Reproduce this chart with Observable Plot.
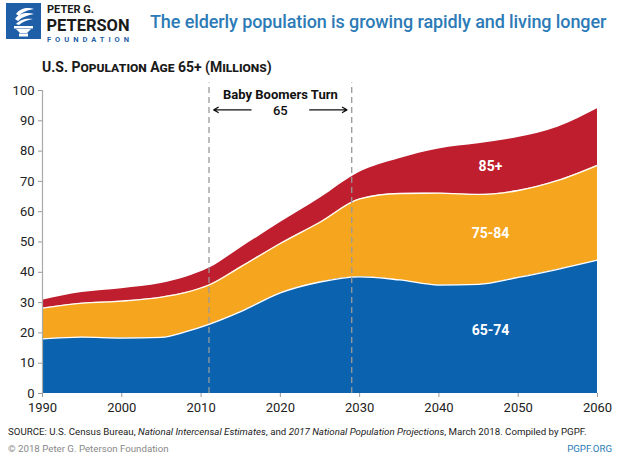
<!DOCTYPE html>
<html>
<head>
<meta charset="utf-8">
<script src="https://cdn.jsdelivr.net/npm/d3@7"></script>
<script src="https://cdn.jsdelivr.net/npm/@observablehq/plot@0.6"></script>
<style>
  html, body { margin: 0; padding: 0; background: #fff; }
  #page { position: relative; width: 620px; height: 456px; overflow: hidden; font-family: Roboto, "Open Sans", sans-serif; }
  .abs { position: absolute; white-space: nowrap; }
  #title { left: 150px; top: 11px; font-size: 18px; font-weight: 500; color: #2C7BB6; letter-spacing: -0.1px; }
  #subtitle { left: 42px; top: 59px; font-size: 14px; font-weight: 700; color: #1a1a1a; font-variant: small-caps; }
  #chart { position: absolute; left: 0; top: 80px; }
  #source { left: 8px; top: 426px; font-size: 9.7px; color: #222; }
  #copy { left: 8px; top: 443px; font-size: 9.7px; color: #888; }
  #pgpf { right: 8px; top: 443px; font-size: 9.7px; color: #2C7BB6; }
  #logo { left: 6px; top: 3px; }
  .lt { font-family: Roboto, sans-serif; }
</style>
</head>
<body>
<div id="page">
  <div id="logo" class="abs">
    <svg width="130" height="40" viewBox="0 0 130 40">
      <rect x="0" y="0" width="35" height="36" fill="#1F5FA8"/>
      <path d="M10 11 C14 5, 22 4, 28 6 C22 7, 16 9, 13 13 Z" fill="#fff"/>
      <path d="M9 16 C13 10, 21 9, 28 11 C22 12, 16 14, 12 18 Z" fill="#fff"/>
      <path d="M10 21 C14 16, 21 15, 27 16 C21 17, 16 19, 13 22 Z" fill="#fff"/>
      <rect x="8" y="23" width="19" height="2.5" fill="#fff"/>
      <path d="M10 26 L25 26 L21 30 L14 30 Z" fill="#fff"/>
      <rect x="13" y="30.5" width="9" height="3" fill="#fff"/>
      <text class="lt" x="41" y="9.5" font-size="11" font-weight="700" fill="#1a1a1a">PETER G.</text>
      <text class="lt" x="40.5" y="28.3" font-size="17" font-weight="700" fill="#1a1a1a" textLength="83" lengthAdjust="spacingAndGlyphs">PETERSON</text>
      <text class="lt" x="41" y="38.5" font-size="7.5" font-weight="700" fill="#1F5FA8" textLength="82" lengthAdjust="spacing">FOUNDATION</text>
    </svg>
  </div>
  <div id="title" class="abs">The elderly population is growing rapidly and living longer</div>
  <div id="subtitle" class="abs">U.S. Population Age 65+ (Millions)</div>
  <div id="chart"></div>
  <div id="source" class="abs">SOURCE: U.S. Census Bureau, <i>National Intercensal Estimates</i>, and <i>2017 National Population Projections</i>, March 2018. Compiled by PGPF.</div>
  <div id="copy" class="abs">© 2018 Peter G. Peterson Foundation</div>
  <div id="pgpf" class="abs">PGPF.ORG</div>
</div>
<script>
// ---- Data (millions of people) ----
const years     = [1990, 1995, 2000, 2005, 2008, 2011, 2015, 2020, 2025, 2030, 2035, 2040, 2045, 2050, 2055, 2060];
const age65to74 = [18.0, 18.6, 18.3, 18.5, 20.3, 22.8, 27.0, 33.2, 36.8, 38.5, 37.5, 35.8, 36.0, 38.3, 41.0, 44.0];
const age75to84 = [10.2, 11.2, 12.2, 13.3, 13.0, 13.0, 14.8, 16.3, 19.7, 25.7, 28.5, 30.3, 29.7, 28.7, 29.3, 31.3];
const age85plus = [ 2.6,  3.5,  4.1,  4.5,  5.0,  5.5,  6.2,  6.9,  7.9,  8.8, 11.5, 14.6, 16.7, 17.5, 17.6, 18.7];
const seriesNames  = ["65-74", "75-84", "85+"];
const seriesColors = ["#0B62AF", "#F6A51F", "#BE1E2D"];
const xTicks = [1990, 2000, 2010, 2020, 2030, 2040, 2050, 2060];
const yTicks = [0, 10, 20, 30, 40, 50, 60, 70, 80, 90, 100];
// Baby boomers turning 65 window
const boomerYears = [2011, 2029];
// Series label placement (year, value)
const labelYears  = [2046.5, 2046.5, 2046.5];
const labelValues = [20.8, 52.8, 74.9];

const seriesValues = [age65to74, age75to84, age85plus];
const table = [];
seriesNames.forEach((name, i) => {
  years.forEach((yr, j) => table.push({year: yr, age: name, value: seriesValues[i][j]}));
});
const lower = table.filter(d => d.age !== "85+");
const labels = seriesNames.map((n, i) => ({name: n, year: labelYears[i], value: labelValues[i]}));

const chart = Plot.plot({
  width: 620,
  height: 340,
  marginLeft: 42,
  marginRight: 23,
  marginTop: 10,
  marginBottom: 27,
  style: {fontFamily: "Roboto, sans-serif", fontSize: "13px", color: "#222", background: "transparent"},
  x: {domain: [1990, 2060]},
  y: {domain: [0, 100]},
  color: {domain: seriesNames, range: seriesColors},
  marks: [
    Plot.areaY(table, {x: "year", y: "value", z: "age", fill: "age", curve: "monotone-x", order: seriesNames}),
    Plot.lineY(lower, Plot.stackY2({x: "year", y: "value", z: "age", stroke: "#fff", strokeWidth: 1.3, curve: "monotone-x"})),
    Plot.ruleX([1990], {y1: 0, y2: 100, stroke: "#aaa", strokeWidth: 1.2}),
    Plot.ruleX(boomerYears, {y1: 0, y2: 102.5, stroke: "#999", strokeWidth: 1.3, strokeDasharray: "6,4"}),
    Plot.axisY({ticks: yTicks, tickSize: 4, stroke: "#999", fill: "#222", tickPadding: 4, label: null, fontSize: 13}),
    Plot.axisX({ticks: xTicks, tickSize: 4, stroke: "#999", fill: "#222", tickFormat: "d", tickPadding: 5, label: null, fontSize: 13}),
    Plot.text(["Baby Boomers Turn"], {x: 2020, y: 98.6, text: d => d, fontWeight: 700, fontSize: 13, fill: "#111"}),
    Plot.text(["65"], {x: 2020, y: 93.3, text: d => d, fontWeight: 500, fontSize: 13, fill: "#111"}),
    Plot.arrow([{a: 2016.3, b: 2011.6}, {a: 2023.7, b: 2028.4}], {x1: "a", x2: "b", y1: 93.6, y2: 93.6, stroke: "#111", strokeWidth: 1.3, headLength: 6}),
    Plot.text(labels, {x: "year", y: "value", text: "name", fill: "#fff", fontWeight: 700, fontSize: 14})
  ]
});
document.getElementById("chart").appendChild(chart);
</script>
</body>
</html>
